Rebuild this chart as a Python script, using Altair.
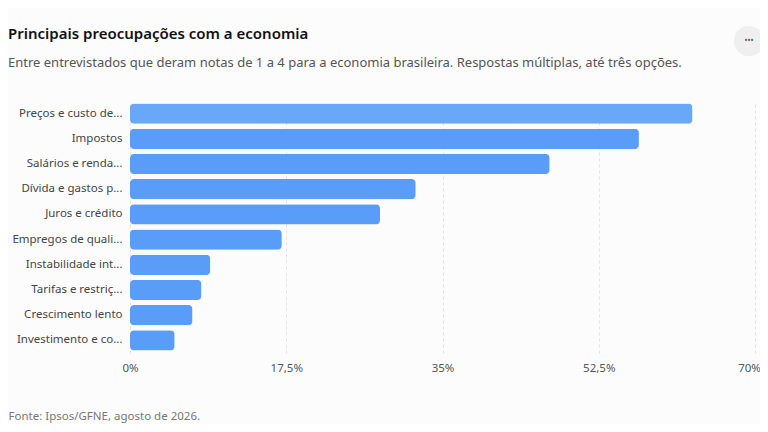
import altair as alt
import pandas as pd

categories = [
    "Preços e custo de...",
    "Impostos",
    "Salários e renda...",
    "Dívida e gastos p...",
    "Juros e crédito",
    "Empregos de quali...",
    "Instabilidade int...",
    "Tarifas e restriç...",
    "Crescimento lento",
    "Investimento e co...",
]
values = [63, 57, 47, 32, 28, 17, 9, 8, 7, 5]
x_ticks = [0, 17.5, 35, 52.5, 70]

title_text = "Principais preocupações com a economia"
subtitle_text = ("Entre entrevistados que deram notas de 1 a 4 para a economia brasileira. "
                 "Respostas múltiplas, até três opções.")
source_text = "Fonte: Ipsos/GFNE, agosto de 2026."

df = pd.DataFrame({"categoria": categories, "valor": values})

FONT = "Noto Sans"
BAR = "#5a9df8"

bars = alt.Chart(df).mark_bar(cornerRadius=4).encode(
    y=alt.Y(
        "categoria:N",
        sort=categories,
        scale=alt.Scale(paddingInner=0.2, paddingOuter=0.1),
        axis=alt.Axis(
            title=None, domain=False, ticks=False, grid=False,
            labelPadding=8, labelLimit=200, labelFontSize=11.5,
            labelColor="#444444", labelFont=FONT,
        ),
    ),
    x=alt.X(
        "valor:Q",
        scale=alt.Scale(domain=[0, 70], nice=False),
        axis=alt.Axis(
            values=x_ticks,
            labelExpr="replace(format(datum.value, '.1~f'), '.', ',') + '%'",
            labelFontSize=11.5, labelColor="#555555", labelFont=FONT,
            labelPadding=9, labelFlush=False,
            labelOffset={"condition": {"test": "datum.value == 70", "value": -6}, "value": 0},
            domain=False, ticks=False,
            grid=True, gridDash=[3, 3], gridColor="#e2e2e2",
            title=source_text, titleAnchor="start", titleAlign="left",
            titleX=-122, titleY=66, titleBaseline="alphabetic",
            titleFontWeight="normal", titleFontSize=11.5, titleColor="#777777",
            titleFont=FONT,
        ),
    ),
    color=alt.condition(
        alt.datum.categoria == categories[0], alt.value("#69a8f9"), alt.value(BAR)
    ),
    tooltip=["categoria", "valor"],
)

button_df = pd.DataFrame({"k": [0]})
button = alt.Chart(button_df).mark_circle(size=908, color="#efefef", opacity=1).encode(
    x=alt.value(619), y=alt.value(-60)
)
dots = alt.Chart(button_df).mark_text(
    text="•••", fontSize=8, color="#555555", font=FONT, baseline="middle", align="center"
).encode(x=alt.value(619), y=alt.value(-60))

chart = alt.layer(bars, button, dots).properties(
    width=625,
    height=252,
    background="#fcfcfc",
    padding={"left": 122, "top": 93, "right": 5, "bottom": 71},
    autosize=alt.AutoSizeParams(type="none"),
    title=alt.Title(
        title_text,
        subtitle=subtitle_text,
        anchor="start",
        frame="group",
        dx=-122,
        dy=44,
        offset=0,
        fontSize=15,
        font=FONT,
        fontWeight=600,
        color="#111111",
        subtitleFont=FONT,
        subtitleFontSize=13,
        subtitleColor="#555555",
        subtitlePadding=15,
    ),
).configure_view(stroke=None)

chart.save("out.html", embed_options={"renderer": "svg", "actions": False})
